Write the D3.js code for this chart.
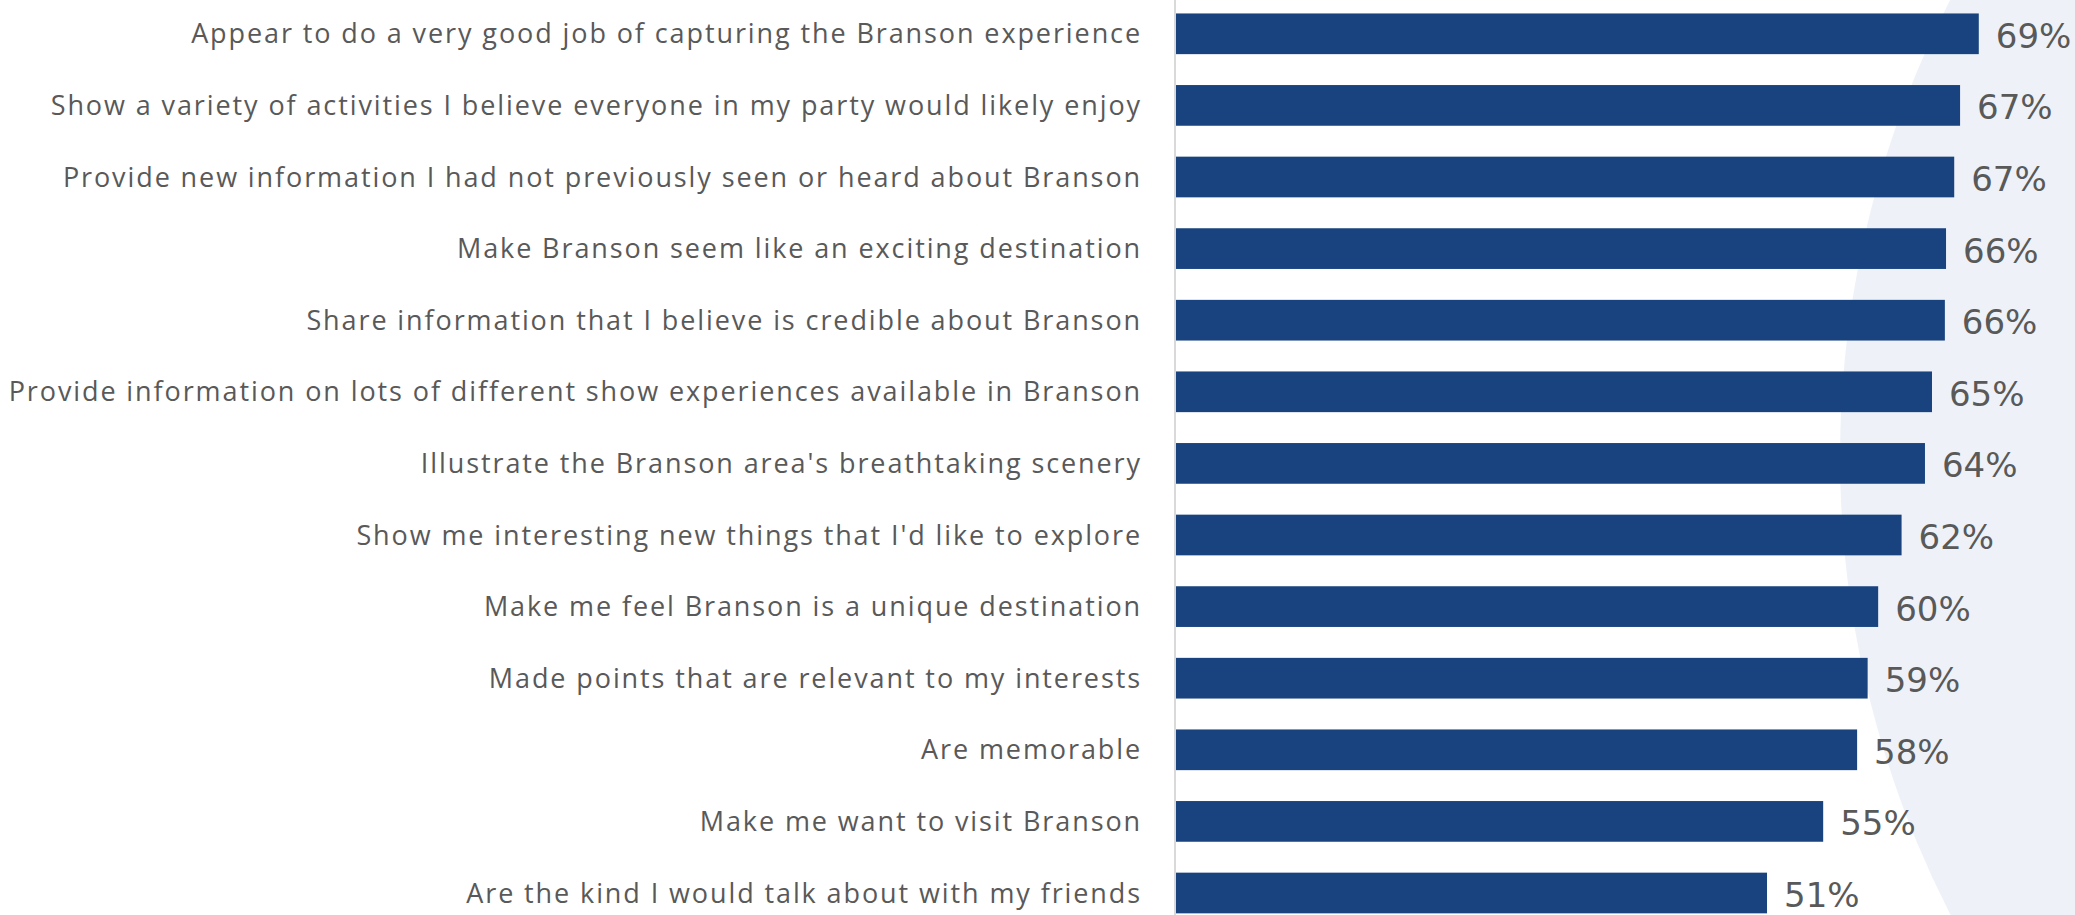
<!DOCTYPE html>
<html>
<head>
<meta charset="utf-8">
<title>branson bars</title>
<style>
  html, body { margin: 0; padding: 0; background: #fff; }
  svg { display: block; }
  .label { font-family: "Open Sans", sans-serif; font-size: 27px; letter-spacing: 1.9px; fill: #595959; }
  .value { font-family: "DejaVu Sans", sans-serif; font-size: 34px; fill: #595959; }
</style>
</head>
<body>
<div id="chart"></div>
<script src="https://cdn.jsdelivr.net/npm/d3@7"></script>
<script>
var categories = [
  "Appear to do a very good job of capturing the Branson experience",
  "Show a variety of activities I believe everyone in my party would likely enjoy",
  "Provide new information I had not previously seen or heard about Branson",
  "Make Branson seem like an exciting destination",
  "Share information that I believe is credible about Branson",
  "Provide information on lots of different show experiences available in Branson",
  "Illustrate the Branson area's breathtaking scenery",
  "Show me interesting new things that I'd like to explore",
  "Make me feel Branson is a unique destination",
  "Made points that are relevant to my interests",
  "Are memorable",
  "Make me want to visit Branson",
  "Are the kind I would talk about with my friends"
];
var values = [68.7, 67.1, 66.6, 65.9, 65.8, 64.7, 64.1, 62.1, 60.1, 59.2, 58.3, 55.4, 50.6];

var width = 2075;
var height = 915;
var axisX = 1175;

var svg = d3.select("#chart").append("svg")
  .attr("width", width)
  .attr("height", height);

// pale round shape in the background, right side
svg.append("circle")
  .attr("cx", 2844)
  .attr("cy", 457)
  .attr("r", 1004)
  .attr("fill", "#eef2f8");

var x = d3.scaleLinear()
  .domain([0, 100])
  .range([axisX, axisX + 1170]);

var y = d3.scaleBand()
  .domain(categories)
  .range([-2, 928.8])
  .paddingInner(0.4316)
  .paddingOuter(0.2158);

svg.append("line")
  .attr("x1", axisX).attr("x2", axisX)
  .attr("y1", 0).attr("y2", height)
  .attr("stroke", "#d9d9d9")
  .attr("stroke-width", 2);

var rows = svg.selectAll(".row")
  .data(categories)
  .enter().append("g")
  .attr("class", "row");

rows.append("rect")
  .attr("x", x(0) + 1)
  .attr("y", d => y(d))
  .attr("width", (d, i) => x(values[i]) - x(0) - 1)
  .attr("height", y.bandwidth())
  .attr("fill", "#18437e");

rows.append("text")
  .attr("class", "label")
  .attr("x", axisX - 33)
  .attr("y", d => y(d) + y.bandwidth() / 2 + 9.5)
  .attr("text-anchor", "end")
  .text(d => d);

rows.append("text")
  .attr("class", "value")
  .attr("x", (d, i) => x(values[i]) + 17)
  .attr("y", d => y(d) + y.bandwidth() / 2 + 14)
  .text((d, i) => Math.round(values[i]) + "%");
</script>
</body>
</html>
